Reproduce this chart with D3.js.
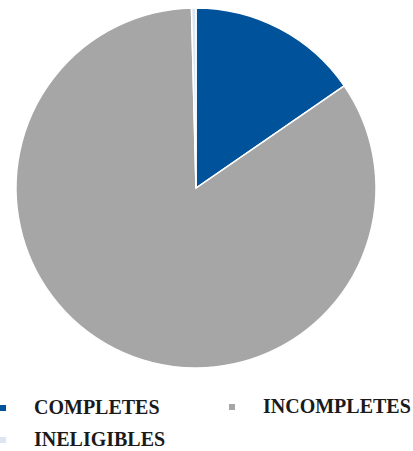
<!DOCTYPE html>
<html>
<head>
<meta charset="utf-8">
<script src="https://cdn.jsdelivr.net/npm/d3@7"></script>
<style>
  html, body { margin: 0; padding: 0; background: #fff; }
</style>
</head>
<body>
<svg id="chart" width="413" height="451"></svg>
<script>
// Survey disposition shares (percent)
const categories = ["COMPLETES", "INCOMPLETES", "INELIGIBLES"];
const values = [15.4, 84.2, 0.4];
const colors = ["#00529B", "#A6A6A6", "#DCE6F2"];

const svg = d3.select("#chart");
const cx = 196, cy = 188, radius = 180;

const pie = d3.pie().sort(null).value(d => d.value);
const arc = d3.arc().innerRadius(0).outerRadius(radius);
const data = categories.map((c, i) => ({ name: c, value: values[i], color: colors[i] }));

svg.append("g")
  .attr("transform", `translate(${cx},${cy})`)
  .selectAll("path")
  .data(pie(data))
  .join("path")
  .attr("d", arc)
  .attr("fill", d => d.data.color)
  .attr("stroke", "#fff")
  .attr("stroke-width", 1.5);

// Legend: two columns, wrapping to a second row
const legendPos = [
  { x: 0, y: 405 },
  { x: 229, y: 404 },
  { x: 0, y: 437 }
];
const legend = svg.append("g")
  .selectAll("g")
  .data(data)
  .join("g")
  .attr("transform", (d, i) => `translate(${legendPos[i].x},${legendPos[i].y})`);

legend.append("rect")
  .attr("width", 6).attr("height", 6)
  .attr("fill", d => d.color);

legend.append("text")
  .attr("x", 34).attr("y", 8.5)
  .attr("font-family", "'Liberation Serif', 'Times New Roman', serif")
  .attr("font-weight", "bold")
  .attr("font-size", 20)
  .attr("fill", "#1a1a1a")
  .text(d => d.name);
</script>
</body>
</html>
